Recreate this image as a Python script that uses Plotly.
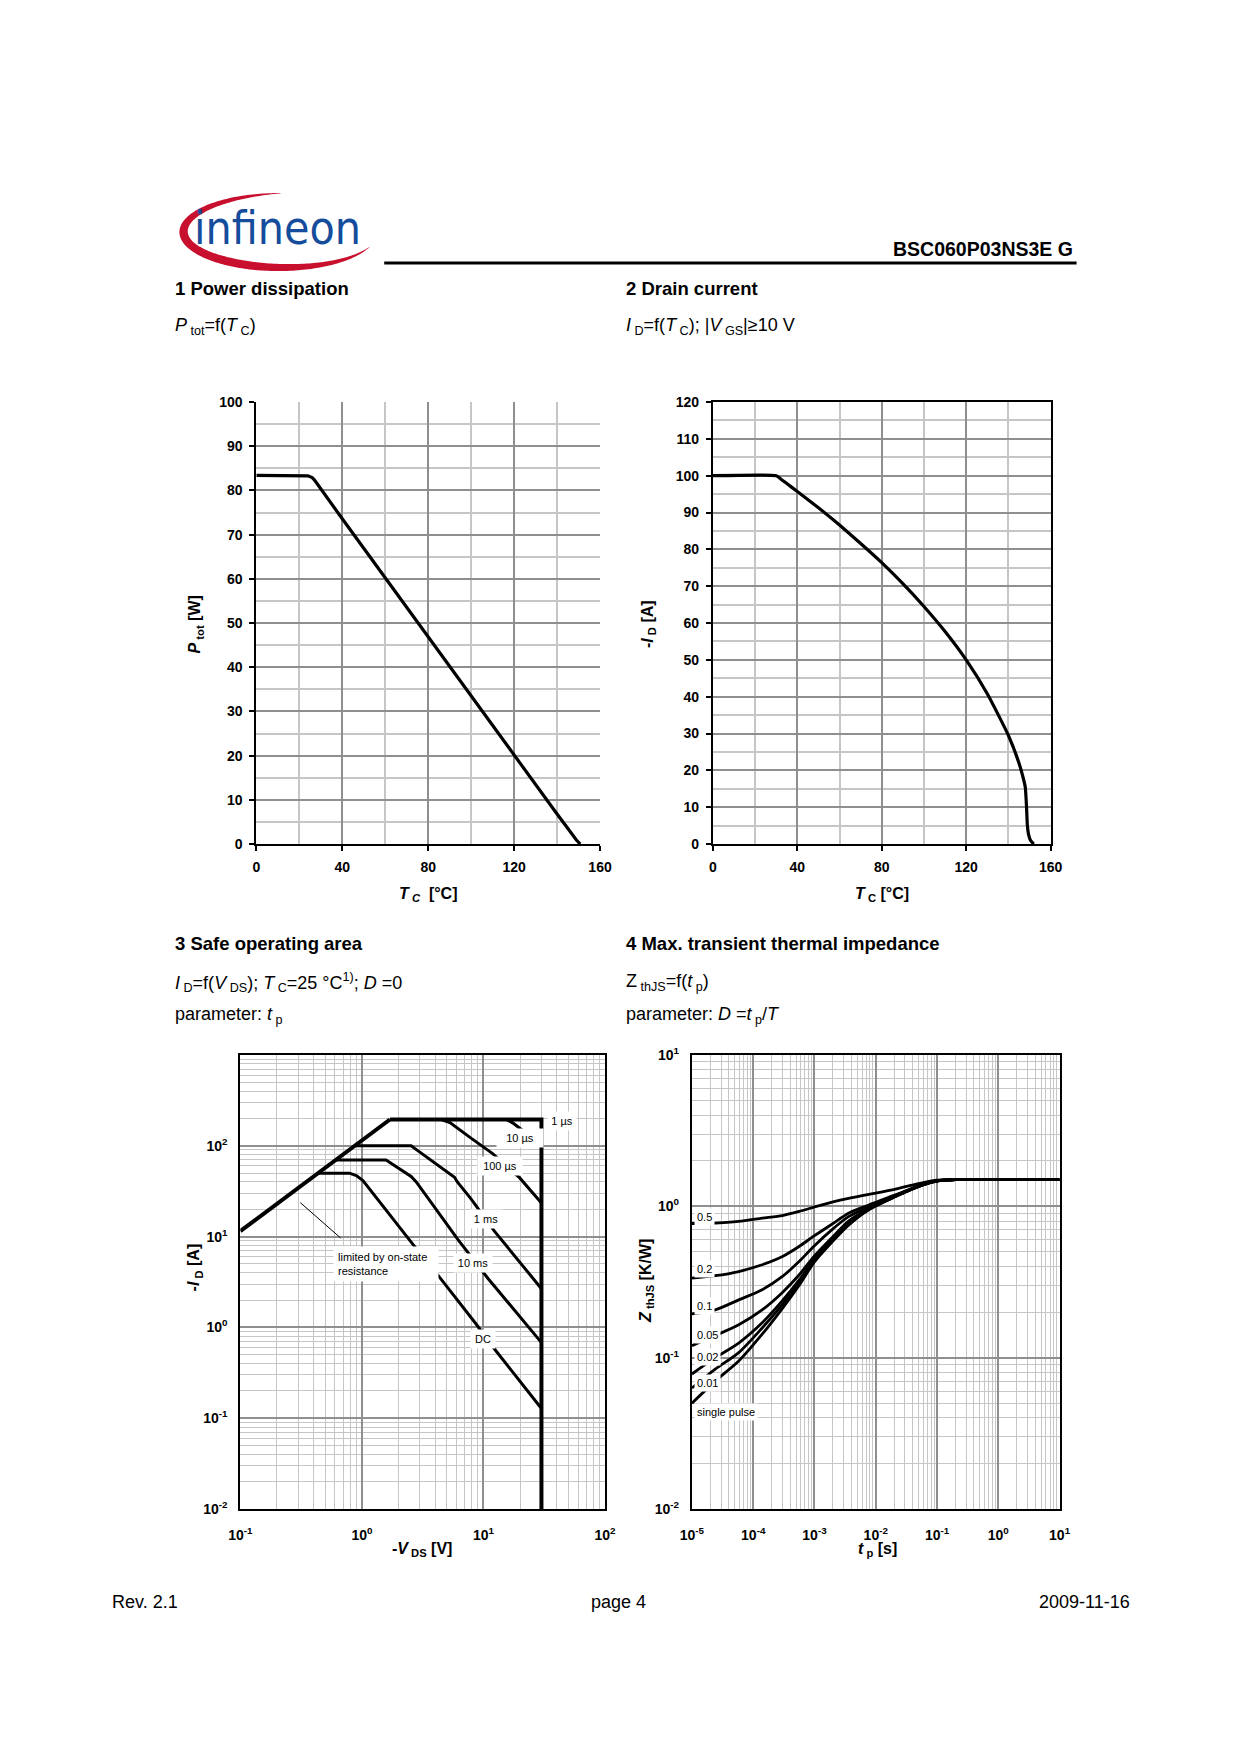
import numpy as np
import plotly.graph_objects as go

# ---------------- data ----------------
# 1 Power dissipation  P_tot = f(T_C)
tc_ptot = [0, 22, 24, 26, 27, 40, 60, 80, 100, 120, 140, 144, 147, 149, 150.8]
p_tot = [83.4, 83.4, 83.3, 82.9, 82.4, 73.6, 60.2, 46.7, 33.4, 20.0, 6.8, 4.2, 2.1, 0.9, 0.0]

# 2 Drain current  I_D = f(T_C)
tc_id = [0, 30, 32, 35, 40, 50, 60, 70, 80, 90, 100, 110, 120, 130, 140, 145, 147, 148, 148.6, 149.0, 149.6, 150.5, 152]
i_d = [100, 100, 99.2, 97.9, 95.7, 91.3, 86.6, 81.6, 76.4, 70.7, 64.5, 57.7, 50.0, 40.8, 29.5, 22.0, 18.0, 15.5, 10.0, 5.0, 2.5, 1.0, 0.0]

# 3 Safe operating area  (-V_DS [V], -I_D [A])
soa_rds_v = [0.1, 0.15, 1.7]
soa_rds_i = [11.5, 17.2, 195]
soa_1us_v = [1.7, 30, 30]
soa_1us_i = [195, 195, 0.01]
soa_10us_v = [15.4, 17.5, 20.4, 30]
soa_10us_i = [195, 178, 152, 103]
soa_100us_v = [4.5, 5.3, 8.0, 11.9, 15.0, 19.8, 30]
soa_100us_i = [195, 180, 120, 82, 62, 44.6, 23.5]
soa_1ms_v = [0.87, 2.54, 2.9, 5.78, 6.1, 7.93, 12.3, 30]
soa_1ms_i = [100, 100, 88, 45, 40, 25.9, 11.5, 2.67]
soa_10ms_v = [0.61, 1.58, 2.54, 2.8, 6.15, 10.9, 30]
soa_10ms_i = [70, 70, 46, 40, 9.3, 3.46, 0.68]
soa_dc_v = [0.435, 0.79, 0.9, 1.02, 2.71, 4.22, 8.7, 12.7, 30]
soa_dc_i = [50, 50, 47, 41.4, 7.8, 3.77, 1.09, 0.55, 0.128]
soa_note_v = [0.311, 0.668]
soa_note_i = [23.7, 9.66]
soa_labels = ["1 µs", "10 µs", "100 µs", "1 ms", "10 ms", "DC"]
soa_label_v = [44.3, 19.8, 13.7, 10.5, 8.28, 9.87]
soa_label_i = [187, 123, 60, 15.8, 5.08, 0.74]
soa_label_w = [22, 40, 38, 26, 32, 18]

# 4 Transient thermal impedance  Z_thJS = f(t_p)
tp = [1e-5, 2.4e-5, 5.8e-5, 1.4e-4, 3e-4, 5.6e-4, 1e-3, 2e-3, 3.6e-3, 7.7e-3, 0.021, 0.057, 0.1, 0.2, 10]
z_d05 = [0.77, 0.775, 0.795, 0.835, 0.87, 0.925, 0.99, 1.07, 1.13, 1.2, 1.3, 1.43, 1.49, 1.5, 1.5]
z_d02 = [0.335, 0.348, 0.371, 0.411, 0.466, 0.543, 0.64, 0.77, 0.9, 1.02, 1.19, 1.39, 1.48, 1.5, 1.5]
z_d01 = [0.195, 0.207, 0.241, 0.281, 0.344, 0.432, 0.55, 0.71, 0.855, 0.99, 1.18, 1.385, 1.48, 1.5, 1.5]
z_d005 = [0.12, 0.14, 0.165, 0.207, 0.27, 0.352, 0.47, 0.63, 0.8, 0.965, 1.17, 1.385, 1.475, 1.5, 1.5]
z_d002 = [0.078, 0.1, 0.125, 0.17, 0.238, 0.325, 0.452, 0.61, 0.775, 0.96, 1.165, 1.38, 1.475, 1.5, 1.5]
z_d001 = [0.063, 0.084, 0.108, 0.157, 0.225, 0.313, 0.441, 0.6, 0.762, 0.955, 1.162, 1.38, 1.47, 1.5, 1.5]
z_single = [0.05, 0.07, 0.095, 0.143, 0.212, 0.3, 0.43, 0.59, 0.752, 0.95, 1.16, 1.38, 1.47, 1.5, 1.5]
zth_labels = ["0.5", "0.2", "0.1", "0.05", "0.02", "0.01", "single pulse"]
zth_label_y = [0.855, 0.386, 0.219, 0.141, 0.101, 0.068, 0.044]

# tick labels
soa_x_ticks = [0.1, 1, 10, 100]
soa_y_ticks = [0.01, 0.1, 1, 10, 100]
zth_x_ticks = [1e-5, 1e-4, 1e-3, 1e-2, 1e-1, 1, 10]
zth_y_ticks = [0.01, 0.1, 1, 10]

# ---------------- layout helpers ----------------
PAGE_W, PAGE_H, OFF = 1240, 1754, 8
W, H = PAGE_W - 2 * OFF, PAGE_H - 2 * OFF
# measured correction between requested and photographed page positions
SX, CX = 0.9813, 10.6
SY, CY = 0.9897, 9.0
FONT = "Liberation Sans, Arial, Helvetica, sans-serif"
DARK = "#8f8f8f"
LIGHT = "#c6c6c6"


def xp(px):
    xi = (px - CX) / SX
    return (xi - OFF) / W


def yp(py):
    yi = (py - CY) / SY
    return 1 - (yi - OFF) / H


def pow_label(v):
    e = int(round(np.log10(v)))
    return "10<sup>%d</sup>" % e


fig = go.Figure()


def add_line(x, y, xa, ya, width=3.0, smooth=None):
    line = dict(color="black", width=width)
    if smooth:
        line.update(shape="spline", smoothing=smooth)
    fig.add_trace(go.Scatter(x=x, y=y, mode="lines", line=line, xaxis=xa, yaxis=ya,
                             showlegend=False, hoverinfo="skip"))


# chart 1
add_line(tc_ptot, p_tot, "x", "y", 3.2)
# chart 2
add_line(tc_id, i_d, "x2", "y2", 3.2, smooth=0.5)
# chart 3
add_line(soa_note_v, soa_note_i, "x3", "y3", 1.0)
add_line(soa_dc_v, soa_dc_i, "x3", "y3", 3.0)
add_line(soa_10ms_v, soa_10ms_i, "x3", "y3", 3.0)
add_line(soa_1ms_v, soa_1ms_i, "x3", "y3", 3.0)
add_line(soa_100us_v, soa_100us_i, "x3", "y3", 3.0)
add_line(soa_10us_v, soa_10us_i, "x3", "y3", 3.0)
add_line(soa_rds_v, soa_rds_i, "x3", "y3", 4.0)
add_line(soa_1us_v, soa_1us_i, "x3", "y3", 4.0)
# chart 4
for z in [z_single, z_d001, z_d002, z_d005, z_d01, z_d02, z_d05]:
    add_line(tp, z, "x4", "y4", 2.8, smooth=0.8)

tickfont = dict(family=FONT, size=14, color="black", weight="bold")


def lin_axes(x0, x1, y0, y1, xr, yr, xdt, xmdt, ydt, ymdt, xa_anchor, ya_anchor, mirror):
    common = dict(showgrid=True, gridcolor=DARK, gridwidth=1.6, showline=True,
                  linecolor="black", linewidth=2, mirror=mirror, ticks="outside",
                  ticklen=5, tickwidth=1.5, tickcolor="black", tickfont=tickfont,
                  zeroline=False, fixedrange=True, tick0=0)
    xa = dict(common, domain=[xp(x0), xp(x1)], range=xr, dtick=xdt, anchor=xa_anchor,
              minor=dict(dtick=xmdt, tick0=0, showgrid=True, gridcolor=LIGHT, gridwidth=1.6),
              ticklabelstandoff=4)
    ya = dict(common, domain=[yp(y1), yp(y0)], range=yr, dtick=ydt, anchor=ya_anchor,
              minor=dict(dtick=ymdt, tick0=0, showgrid=True, gridcolor=LIGHT, gridwidth=1.6),
              ticklabelstandoff=4)
    return xa, ya


def minor_vals(lo, hi):
    vals = []
    for e in range(lo, hi):
        for d in range(2, 10):
            vals.append(d * 10.0 ** e)
    return vals


def log_axes(x0, x1, y0, y1, xr, yr, xt, yt, xa_anchor, ya_anchor):
    common = dict(type="log", showgrid=True, gridcolor=DARK, gridwidth=1.5, showline=True,
                  linecolor="black", linewidth=2.2, mirror=True, ticks="", tickfont=tickfont,
                  zeroline=False, fixedrange=True, tickmode="array")
    xa = dict(common, domain=[xp(x0), xp(x1)], range=xr, anchor=xa_anchor,
              tickvals=xt, ticktext=[pow_label(v) for v in xt],
              minor=dict(tickmode="array", tickvals=minor_vals(xr[0], xr[1]), showgrid=True,
                         gridcolor=LIGHT, gridwidth=1.3),
              ticklabelstandoff=12)
    ya = dict(common, domain=[yp(y1), yp(y0)], range=yr, anchor=ya_anchor,
              tickvals=yt, ticktext=[pow_label(v) for v in yt],
              minor=dict(tickmode="array", tickvals=minor_vals(yr[0], yr[1]), showgrid=True,
                         gridcolor=LIGHT, gridwidth=1.3),
              ticklabelstandoff=8)
    return xa, ya


x1a, y1a = lin_axes(255, 599, 401, 843, [0, 160], [0, 100], 40, 20, 10, 5, "y", "x", False)
x2a, y2a = lin_axes(712, 1050, 401, 843, [0, 160], [0, 120], 40, 20, 10, 5, "y2", "x2", True)
x3a, y3a = log_axes(239, 604, 1054, 1508, [-1, 2], [-2, 3], soa_x_ticks, soa_y_ticks, "y3", "x3")
x4a, y4a = log_axes(691, 1059, 1054, 1508, [-5, 1], [-2, 1], zth_x_ticks, zth_y_ticks, "y4", "x4")

annotations = []


def ann(text, x, y, size, xanchor="left", yanchor="middle", bold=False, angle=0, color="black", family=FONT):
    annotations.append(dict(text=text, x=xp(x), y=yp(y), xref="paper", yref="paper",
                            xanchor=xanchor, yanchor=yanchor, showarrow=False, textangle=angle,
                            font=dict(family=family, size=size, color=color,
                                      weight="bold" if bold else "normal")))


# header
ann("BSC060P03NS3E G", 1074, 248, 19.5, xanchor="right", bold=True)
ann("infineon", 191, 256, 46, xanchor="left", yanchor="bottom", color="#154c9c",
    family="DejaVu Sans Condensed, Liberation Sans Narrow, Arial Narrow, Liberation Sans, sans-serif")

# section titles
ann("1 Power dissipation", 172, 287, 18.5, bold=True)
ann("<i>P</i><sub> tot</sub>=f(<i>T</i><sub> C</sub>)", 172, 325, 18)
ann("2 Drain current", 623, 287, 18.5, bold=True)
ann("<i>I</i><sub> D</sub>=f(<i>T</i><sub> C</sub>); |<i>V</i><sub> GS</sub>|≥10 V", 623, 325, 18)
ann("3 Safe operating area", 172, 942, 18.5, bold=True)
ann("<i>I</i><sub> D</sub>=f(<i>V</i><sub> DS</sub>); <i>T</i><sub> C</sub>=25 °C<sup>1)</sup>; <i>D</i> =0", 172, 981, 18)
ann("parameter: <i>t</i><sub> p</sub>", 172, 1014, 18)
ann("4 Max. transient thermal impedance", 623, 942, 18.5, bold=True)
ann("Z<sub> thJS</sub>=f(<i>t</i><sub> p</sub>)", 623, 981, 18)
ann("parameter: <i>D</i> =<i>t</i><sub> p</sub>/<i>T</i>", 623, 1014, 18)

# axis titles
ann("<i>P</i><sub> tot</sub> [W]", 194, 623, 16, xanchor="center", bold=True, angle=-90)
ann("<i>T</i><sub> <i>C</i></sub>  [°C]", 427, 893, 16, xanchor="center", bold=True)
ann("-<i>I</i><sub> D</sub> [A]", 647, 623, 16, xanchor="center", bold=True, angle=-90)
ann("<i>T</i><sub> C</sub> [°C]", 881, 893, 16, xanchor="center", bold=True)
ann("-<i>I</i><sub> D</sub> [A]", 193, 1266, 16, xanchor="center", bold=True, angle=-90)
ann("-<i>V</i><sub> DS</sub> [V]", 421, 1549, 16, xanchor="center", bold=True)
ann("<i>Z</i><sub> thJS</sub> [K/W]", 645, 1280, 16, xanchor="center", bold=True, angle=-90)
ann("<i>t</i><sub> p</sub> [s]", 877, 1549, 16, xanchor="center", bold=True)

# footer
ann("Rev. 2.1", 109, 1601, 18)
ann("page 4", 618, 1601, 18, xanchor="center")
ann("2009-11-16", 1131, 1601, 18, xanchor="right")

# chart 3 labels
for t, v, i, w in zip(soa_labels, soa_label_v, soa_label_i, soa_label_w):
    annotations.append(dict(text=t, x=np.log10(v), y=np.log10(i), xref="x3", yref="y3",
                            showarrow=False, bgcolor="white", borderpad=3, width=w,
                            font=dict(family=FONT, size=11, color="black")))
annotations.append(dict(text="limited by on-state<br>resistance", x=np.log10(0.58), y=np.log10(5.0),
                        xref="x3", yref="y3", xanchor="left", showarrow=False, bgcolor="white",
                        borderpad=4, width=96, align="left",
                        font=dict(family=FONT, size=11, color="black")))
# chart 4 labels
for t, z in zip(zth_labels, zth_label_y):
    annotations.append(dict(text=t, x=np.log10(1.08e-5), y=np.log10(z), xref="x4", yref="y4",
                            xanchor="left", showarrow=False, bgcolor="white", borderpad=2,
                            font=dict(family=FONT, size=11, color="black")))

# logo swoosh (decorative crescent)
cx, cy, rx, ry = 277, 231, 99, 39
tt = np.linspace(np.radians(-338), np.radians(-88), 160)
ss = (tt - tt[0]) / (tt[-1] - tt[0])
ww = 9.0 * np.sin(np.pi * ss) ** 0.8
outer = [(cx + rx * np.cos(a), cy + ry * np.sin(a)) for a in tt]
inner = [(cx + (rx - w) * np.cos(a), cy + (ry - w) * np.sin(a)) for a, w in zip(tt, ww)][::-1]
pts = outer + inner
path = "M " + " L ".join("%.5f,%.5f" % (xp(a), yp(b)) for a, b in pts) + " Z"

shapes = [
    dict(type="path", path=path, xref="paper", yref="paper", fillcolor="#c8102e",
         line=dict(width=0), layer="below"),
    dict(type="line", x0=xp(383), x1=xp(1076), y0=yp(262), y1=yp(262), xref="paper",
         yref="paper", line=dict(color="black", width=3)),
]

fig.update_layout(
    width=W, height=H, autosize=False,
    margin=dict(l=0, r=0, t=0, b=0),
    paper_bgcolor="white", plot_bgcolor="white",
    showlegend=False,
    font=dict(family=FONT, color="black"),
    xaxis=x1a, yaxis=y1a, xaxis2=x2a, yaxis2=y2a,
    xaxis3=x3a, yaxis3=y3a, xaxis4=x4a, yaxis4=y4a,
    annotations=annotations, shapes=shapes,
)

fig.write_html("out.html", config={"displayModeBar": False})
